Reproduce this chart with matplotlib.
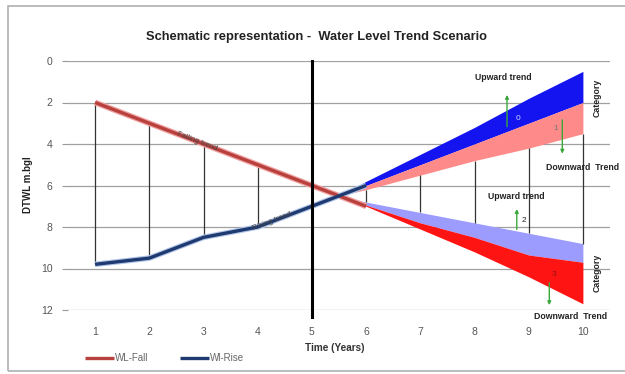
import matplotlib
matplotlib.use("Agg")
import matplotlib.pyplot as plt
from matplotlib.patches import Rectangle

plt.rcParams["font.family"] = ["Liberation Sans", "DejaVu Sans"]

# ── data ─────────────────────────────────────────────────────────────────
years = [1, 2, 3, 4, 5, 6, 7, 8, 9, 10]
year_labels = [str(y) for y in years]
y_ticks = [0, 2, 4, 6, 8, 10, 12]

# observed part (years 1-6)
hist_years = [1, 2, 3, 4, 5, 6]
wl_fall = [2, 3, 4, 5, 6, 7]
wl_rise = [9.8, 9.5, 8.5, 8.0, 7.0, 6.0]

# scenario bands after the crossing point
band_x = [5.5, 6, 7, 8, 9, 10]
blue_top = [6.5, 5.8, 4.5, 3.2, 1.8, 0.5]
blue_bot = [6.5, 6.0, 5.0, 4.0, 3.0, 2.0]
pink_bot = [6.5, 6.2, 5.5, 4.8, 4.2, 3.5]
lav_top = [6.5, 6.8, 7.3, 7.8, 8.3, 8.8]
red_top = [6.5, 6.95, 7.8, 8.5, 9.35, 9.7]
red_bot = [6.5, 7.0, 8.1, 9.2, 10.4, 11.7]

# drop lines
left_drop_x = [1, 2, 3, 4]
right_drop_x = [6, 7, 8, 9, 10]

fig = plt.figure(figsize=(6.25, 3.74), dpi=100, facecolor="white")
fig.patches.append(Rectangle((8 / 625, 1 - 371 / 374), 1.0, 365 / 374,
                             transform=fig.transFigure, fill=False,
                             edgecolor="#b0b0b0", linewidth=1.2))

ax = fig.add_axes([68 / 625, 1 - 310 / 374, 542 / 625, 249 / 374])
ax.set_xlim(0.5, 10.5)
ax.set_ylim(12, 0)

for sp in ax.spines.values():
    sp.set_visible(False)
ax.set_yticks(y_ticks)
ax.set_xticks(years)
ax.set_xticklabels(year_labels)
ax.tick_params(axis="y", length=4, color="#999999", pad=7, labelsize=7.5, labelcolor="#555555")
ax.tick_params(axis="x", length=0, pad=12, labelsize=7.5, labelcolor="#555555")
ax.grid(axis="y", color="#a0a0a0", linewidth=0.9, zorder=0)

# bands
ax.fill_between(band_x, blue_top, blue_bot, color="#1414f0", linewidth=0, zorder=2)
ax.fill_between(band_x, blue_bot, pink_bot, color="#ff8a8a", linewidth=0, zorder=2)
ax.fill_between(band_x, lav_top, red_top, color="#9c9cff", linewidth=0, zorder=2)
ax.fill_between(band_x, red_top, red_bot, color="#ff1414", linewidth=0, zorder=2)

# drop lines between the two series
ax.vlines(left_drop_x, [wl_fall[i - 1] for i in left_drop_x],
          [wl_rise[i - 1] for i in left_drop_x], color="#333333", linewidth=0.9, zorder=3)
ax.vlines(right_drop_x, [pink_bot[band_x.index(x)] for x in right_drop_x],
          [lav_top[band_x.index(x)] for x in right_drop_x],
          color="#333333", linewidth=0.9, zorder=3)

# main series
ax.plot(hist_years, wl_fall, color="#f0a0a0", linewidth=4.2, solid_capstyle="butt", zorder=4)
fall_line, = ax.plot(hist_years, wl_fall, color="#b8403d", linewidth=2.4,
                     solid_capstyle="butt", zorder=5, label="WL-Fall")
ax.plot(hist_years, wl_rise, color="#b0c4e8", linewidth=4.0, solid_capstyle="butt", zorder=4)
rise_line, = ax.plot(hist_years, wl_rise, color="#1f3a70", linewidth=2.4,
                     solid_capstyle="butt", zorder=5, label="Wl-Rise")

# present-day marker
ax.plot([5, 5], [0, 12.35], color="black", linewidth=2.2, zorder=6, clip_on=False)

# labels along the lines
ax.text(2.88, 3.85, "Falling trend", fontsize=5.5, rotation=-21, ha="center", va="center",
        color="#444444", zorder=7)
ax.text(4.27, 7.72, "Rising trend", fontsize=5.5, rotation=21, ha="center", va="center",
        color="#444444", zorder=7)

# trend annotations
arrow = dict(arrowstyle="-|>", color="#3aa83a", linewidth=1.0, mutation_scale=5)
small = dict(fontsize=6.3, fontweight="bold", color="#222222", ha="center", va="center")

ax.text(8.53, 0.8, "Upward trend", **small)
ax.annotate("", xy=(8.6, 1.5), xytext=(8.6, 3.3), arrowprops=arrow, zorder=7)
ax.text(8.8, 2.75, "0", fontsize=6, color="#c8d8ff", ha="center", va="center", zorder=7)

ax.annotate("", xy=(9.62, 4.6), xytext=(9.62, 2.7), arrowprops=arrow, zorder=7)
ax.text(9.5, 3.25, "1", fontsize=6, color="#777777", ha="center", va="center", zorder=7)
ax.text(10.0, 5.15, "Downward  Trend", clip_on=False, **small)

ax.text(8.77, 6.55, "Upward trend", **small)
ax.annotate("", xy=(8.78, 7.0), xytext=(8.78, 8.25), arrowprops=arrow, zorder=7)
ax.text(8.92, 7.7, "2", fontsize=6, color="#222222", ha="center", va="center", zorder=7)

ax.annotate("", xy=(9.38, 11.9), xytext=(9.38, 10.55), arrowprops=arrow, zorder=7,
            annotation_clip=False)
ax.text(9.47, 10.3, "3", fontsize=6, color="#8a1010", ha="center", va="center", zorder=7)
ax.text(9.78, 12.3, "Downward  Trend", clip_on=False, **small)

ax.text(10.27, 1.8, "Category", rotation=90, fontsize=6.3, fontweight="bold",
        ha="center", va="center", color="#222222", clip_on=False)
ax.text(10.27, 10.2, "Category", rotation=90, fontsize=6.3, fontweight="bold",
        ha="center", va="center", color="#222222", clip_on=False)

# titles
fig.text(316 / 625, 1 - 37 / 374, "Schematic representation -  Water Level Trend Scenario",
         fontsize=9.3, fontweight="bold", ha="center", va="center", color="#222222")
fig.text(28 / 625, 1 - 185 / 374, "DTWL m.bgl", rotation=90, fontsize=7,
         fontweight="bold", ha="center", va="center", color="#222222")
fig.text(335 / 625, 1 - 348 / 374, "Time (Years)", fontsize=7.2, fontweight="bold",
         ha="center", va="center", color="#333333")

fig.legend(handles=[fall_line, rise_line], loc="center left",
           bbox_to_anchor=(85 / 625, 1 - 358 / 374), bbox_transform=fig.transFigure,
           ncol=2, frameon=False, fontsize=7, handlelength=3.0, handletextpad=0.1,
           columnspacing=3.2, borderpad=0, borderaxespad=0, labelcolor="#666666")

fig.savefig("out.png", dpi=100)
